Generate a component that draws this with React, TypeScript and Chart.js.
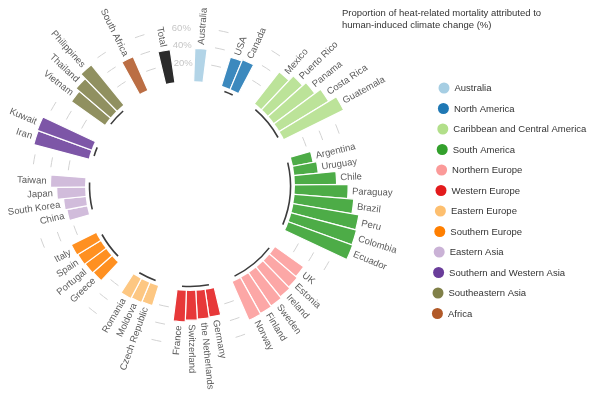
import React, { useEffect, useRef } from 'react';
import { Chart, registerables } from 'chart.js';

Chart.register(...registerables);

// ---------- data ----------
const titleLines = [
  'Proportion of heat-related mortality attributed to',
  'human-induced climate change (%)',
];

const regionNames = [
  'Australia',
  'North America',
  'Caribbean and Central America',
  'South America',
  'Northern Europe',
  'Western Europe',
  'Eastern Europe',
  'Southern Europe',
  'Eastern Asia',
  'Southern and Western Asia',
  'Southeastern Asia',
  'Africa',
];

const regionColors = [
  '#a6cee3',
  '#1f78b4',
  '#b2df8a',
  '#33a02c',
  '#fb9a99',
  '#e31a1c',
  '#fdbf6f',
  '#ff7f00',
  '#cab2d6',
  '#6a3d9a',
  '#808048',
  '#b15928',
];

const totalColor = '#2b2b2b';

const countries = [
  'Australia',
  'USA', 'Canada',
  'Mexico', 'Puerto Rico', 'Panama', 'Costa Rica', 'Guatemala',
  'Argentina', 'Uruguay', 'Chile', 'Paraguay', 'Brazil', 'Peru', 'Colombia', 'Ecuador',
  'UK', 'Estonia', 'Ireland', 'Sweden', 'Finland', 'Norway',
  'Germany', 'the Netherlands', 'Switzerland', 'France',
  'Czech Republic', 'Moldova', 'Romania',
  'Greece', 'Portugal', 'Spain', 'Italy',
  'China', 'South Korea', 'Japan', 'Taiwan',
  'Iran', 'Kuwait',
  'Vietnam', 'Thailand', 'Philippines',
  'South Africa',
  'Total',
];

// index into regionNames; 12 = overall total
const countryRegion = [
  0,
  1, 1,
  2, 2, 2, 2, 2,
  3, 3, 3, 3, 3, 3, 3, 3,
  4, 4, 4, 4, 4, 4,
  5, 5, 5, 5,
  6, 6, 6,
  7, 7, 7, 7,
  8, 8, 8, 8,
  9, 9,
  10, 10, 10,
  11,
  12,
];

const attributablePct = [
  37,
  34, 36,
  45, 52, 57, 65, 75,
  23, 27, 47, 60, 67, 75, 76, 77,
  39, 41, 43, 45, 46, 47,
  31, 32, 33, 35,
  23, 24, 25,
  28, 29, 30, 31,
  23, 25, 32, 39,
  64, 65,
  46, 51, 58,
  41,
  37,
];

const gridTicks = [20, 40, 60];
const gridTickLabels = ['20%', '40%', '60%'];

// ---------- helpers ----------
const GAP_SLOTS = 2;
const START_DEG = 2;
const FONT = '"Liberation Sans", Arial, Helvetica, sans-serif';

function hexToRgba(hex: string, a: number) {
  const n = parseInt(hex.slice(1), 16);
  return `rgba(${(n >> 16) & 255},${(n >> 8) & 255},${n & 255},${a})`;
}

type Slot = { label: string; value: number | null; region: number };

function buildSlots(): Slot[] {
  const slots: Slot[] = [];
  countries.forEach((c, i) => {
    if (i > 0 && countryRegion[i] !== countryRegion[i - 1]) {
      for (let g = 0; g < GAP_SLOTS; g++) slots.push({ label: '', value: null, region: -1 });
    }
    slots.push({ label: c, value: attributablePct[i], region: countryRegion[i] });
  });
  for (let g = 0; g < GAP_SLOTS; g++) slots.push({ label: '', value: null, region: -1 });
  return slots;
}

const rad = (deg: number) => (deg * Math.PI) / 180;

export default function App() {
  const canvasRef = useRef<HTMLCanvasElement | null>(null);

  useEffect(() => {
    const canvas = canvasRef.current;
    if (!canvas) return;
    const slots = buildSlots();
    const slotDeg = 360 / slots.length;
    const centerDeg = (i: number) => START_DEG + (i + 0.5) * slotDeg;

    const colors = slots.map((s) =>
      s.region < 0 ? 'rgba(0,0,0,0)' : s.region === 12 ? totalColor : hexToRgba(regionColors[s.region], 0.87)
    );

    // group runs and gap runs
    const groups: { start: number; end: number }[] = [];
    const gaps: { start: number; end: number }[] = [];
    let i = 0;
    while (i < slots.length) {
      let j = i;
      const isGap = slots[i].region < 0;
      while (j + 1 < slots.length && slots[j + 1].region === slots[i].region) j++;
      (isGap ? gaps : groups).push({ start: i, end: j });
      i = j + 1;
    }

    const decor = {
      id: 'radialDecor',
      afterDatasetsDraw(chart: any) {
        const s = chart.scales.r;
        const ctx = chart.ctx as CanvasRenderingContext2D;
        const cx = s.xCenter;
        const cy = s.yCenter;
        const r0 = s.getDistanceFromCenterForValue(0);
        ctx.save();
        // hollow centre
        ctx.fillStyle = '#ffffff';
        ctx.beginPath();
        ctx.arc(cx, cy, r0, 0, Math.PI * 2);
        ctx.fill();

        // group arcs
        ctx.strokeStyle = '#3c3c3c';
        ctx.lineWidth = 1.6;
        groups.forEach((g) => {
          if (g.end === g.start) return;
          ctx.beginPath();
          ctx.arc(cx, cy, r0 - 4.5, rad(centerDeg(g.start) - 90), rad(centerDeg(g.end) - 90));
          ctx.stroke();
        });

        // grid dashes in the gaps, tick labels in the last gap
        gaps.forEach((g, gi) => {
          const mid = START_DEG + ((g.start + g.end + 1) / 2) * slotDeg;
          gridTicks.forEach((t, ti) => {
            const r = s.getDistanceFromCenterForValue(t);
            if (gi === gaps.length - 1) {
              const a = rad(mid - 90);
              ctx.fillStyle = '#c6c6c6';
              ctx.font = `9.5px ${FONT}`;
              ctx.textAlign = 'center';
              ctx.textBaseline = 'middle';
              ctx.fillText(gridTickLabels[ti], cx + r * Math.cos(a), cy + r * Math.sin(a));
            } else {
              const half = 5 / r;
              ctx.strokeStyle = '#d2d2d2';
              ctx.lineWidth = 1;
              ctx.beginPath();
              ctx.arc(cx, cy, r, rad(mid - 90) - half, rad(mid - 90) + half);
              ctx.stroke();
            }
          });
        });

        // country labels
        ctx.fillStyle = '#5c5c5c';
        ctx.font = `9.5px ${FONT}`;
        ctx.textBaseline = 'middle';
        slots.forEach((sl, k) => {
          if (sl.region < 0 || sl.value == null) return;
          const th = centerDeg(k);
          const r = s.getDistanceFromCenterForValue(sl.value) + 4;
          ctx.save();
          ctx.translate(cx, cy);
          const phi = rad(th - 90);
          if (((th % 360) + 360) % 360 < 183) {
            ctx.rotate(phi);
            ctx.textAlign = 'left';
            ctx.fillText(sl.label, r, 0);
          } else {
            ctx.rotate(phi + Math.PI);
            ctx.textAlign = 'right';
            ctx.fillText(sl.label, -r, 0);
          }
          ctx.restore();
        });
        ctx.restore();
      },
      afterDraw(chart: any) {
        const ctx = chart.ctx as CanvasRenderingContext2D;
        ctx.save();
        ctx.font = `9.5px ${FONT}`;
        ctx.fillStyle = '#333333';
        ctx.textAlign = 'left';
        ctx.textBaseline = 'middle';
        titleLines.forEach((t, k) => ctx.fillText(t, 342, 13.5 + k * 12));
        regionNames.forEach((name, k) => {
          const y = 88 + k * 20.5;
          const x = 444 - k * 0.6;
          ctx.fillStyle = regionColors[k];
          ctx.beginPath();
          ctx.arc(x, y, 5.5, 0, Math.PI * 2);
          ctx.fill();
          ctx.fillStyle = '#333333';
          ctx.fillText(name, x + 10.5, y + 0.5);
        });
        ctx.restore();
      },
    };

    const pxPerPct = 0.885;
    const innerR = 105;
    const drawR = 186;
    const rMin = -innerR / pxPerPct;
    const rMax = rMin + drawR / pxPerPct;

    const chart = new Chart(canvas, {
      type: 'polarArea',
      data: {
        labels: slots.map((s) => s.label),
        datasets: [
          {
            data: slots.map((s) => s.value) as any,
            backgroundColor: colors,
            borderColor: '#ffffff',
            borderWidth: 1.2,
            angle: slotDeg,
          } as any,
        ],
      },
      options: {
        responsive: false,
        maintainAspectRatio: false,
        animation: false,
        events: [],
        devicePixelRatio: 1,
        layout: { padding: { left: 4, right: 217, top: 0, bottom: 24 } },
        scales: {
          r: {
            min: rMin,
            max: rMax,
            startAngle: START_DEG,
            beginAtZero: false,
            ticks: { display: false },
            grid: { display: false },
            angleLines: { display: false },
            pointLabels: { display: false },
          },
        },
        plugins: {
          legend: { display: false },
          tooltip: { enabled: false },
          title: { display: false },
        },
      },
      plugins: [decor],
    });

    return () => chart.destroy();
  }, []);

  return (
    <div style={{ position: 'fixed', left: 0, top: 0, width: 593, height: 396, background: '#fff' }}>
      <canvas ref={canvasRef} width={593} height={396} style={{ display: 'block', width: 593, height: 396 }} />
    </div>
  );
}
